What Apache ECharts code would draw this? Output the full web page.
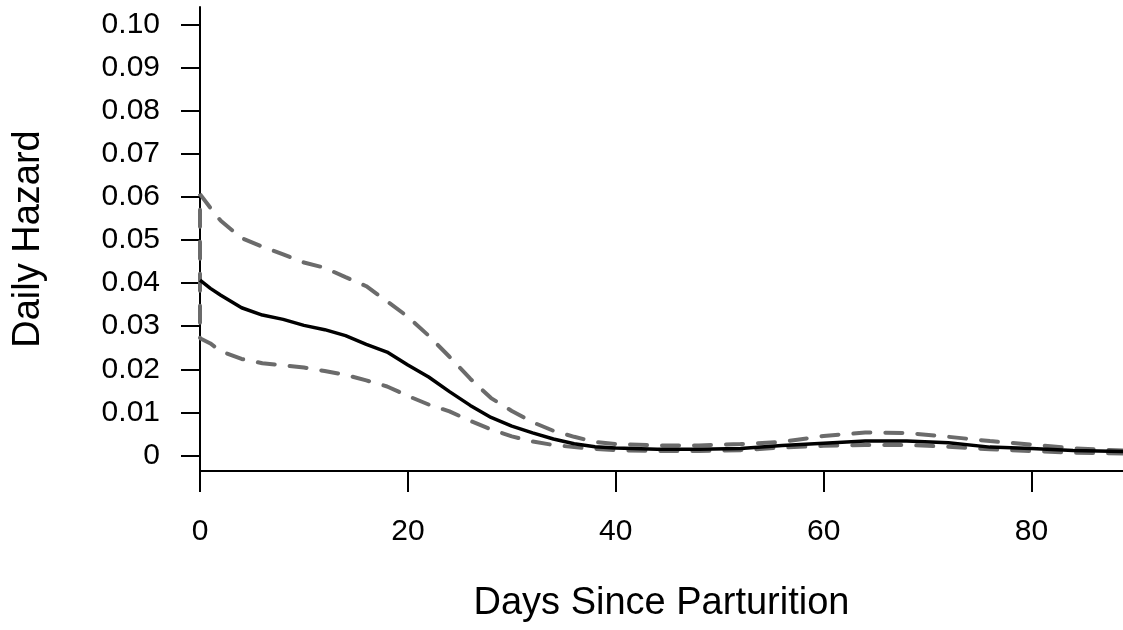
<!DOCTYPE html>
<html>
<head>
<meta charset="utf-8">
<script src="https://cdn.jsdelivr.net/npm/echarts@6/dist/echarts.min.js"></script>
<style>
html,body{margin:0;padding:0;background:#fff;}
#chart{width:1123px;height:630px;}
</style>
</head>
<body>
<div id="chart"></div>
<script>
const days = [0,1,2,4,6,8,10,12,14,16,18,20,22,24,26,28,30,32,34,36,38,40,44,48,52,56,60,64,68,72,76,80,84,89];
const hazard = [0.0407,0.0388,0.0372,0.0343,0.0326,0.0316,0.0302,0.0292,0.0278,0.0258,0.0240,0.0210,0.0182,0.0148,0.0116,0.0088,0.0068,0.0052,0.0038,0.0027,0.0020,0.0017,0.0014,0.0014,0.0016,0.0023,0.0028,0.0033,0.0033,0.0029,0.0019,0.0016,0.0011,0.0009];
const upper = [0.0607,0.0575,0.0545,0.0505,0.0485,0.0467,0.0448,0.0436,0.0414,0.0393,0.0358,0.0322,0.0278,0.0229,0.0178,0.0133,0.0103,0.0077,0.0057,0.0043,0.0031,0.0026,0.0023,0.0023,0.0026,0.0031,0.0045,0.0053,0.0052,0.0043,0.0033,0.0025,0.0016,0.0011];
const lower = [0.0272,0.0260,0.0242,0.0224,0.0214,0.0209,0.0204,0.0196,0.0187,0.0174,0.0160,0.0138,0.0118,0.0102,0.0080,0.0060,0.0044,0.0032,0.0024,0.0019,0.0015,0.0012,0.0010,0.0010,0.0012,0.0018,0.0022,0.0024,0.0024,0.0020,0.0014,0.0010,0.0006,0.0004];
const yTicks = [0,0.01,0.02,0.03,0.04,0.05,0.06,0.07,0.08,0.09,0.10];
const xTicks = [0,20,40,60,80];

const solidData = days.map((d,i)=>[d,hazard[i]]);
// confidence band drawn as one dashed path: lower (right to left), then upper (left to right)
const ciData = [];
for (let i = days.length-1; i >= 0; i--) ciData.push([days[i], lower[i]]);
for (let i = 0; i < days.length; i++) ciData.push([days[i], upper[i]]);

const font = '"Liberation Sans", Arial, sans-serif';
const chart = echarts.init(document.getElementById('chart'), null, {renderer:'canvas'});
chart.setOption({
  animation:false,
  backgroundColor:'#ffffff',
  grid:{left:200, right:0, top:7, bottom:159, containLabel:false},
  xAxis:{
    type:'value', min:0, max:88.8,
    name:'Days Since Parturition', nameLocation:'middle', nameGap:114,
    nameTextStyle:{fontFamily:font, fontSize:38, color:'#000'},
    axisLine:{show:true, onZero:false, lineStyle:{color:'#000', width:2}},
    axisTick:{show:true, inside:false, length:21, customValues:xTicks, lineStyle:{color:'#000', width:2}},
    axisLabel:{customValues:xTicks, margin:46, fontFamily:font, fontSize:30, color:'#000'},
    splitLine:{show:false}
  },
  yAxis:{
    type:'value', min:-0.00365, max:0.1042,
    name:'Daily Hazard', nameLocation:'middle', nameGap:152, nameRotate:90,
    nameTextStyle:{fontFamily:font, fontSize:38, color:'#000'},
    axisLine:{show:true, onZero:false, lineStyle:{color:'#000', width:2}},
    axisTick:{show:true, inside:false, length:19, customValues:yTicks, lineStyle:{color:'#000', width:2}},
    axisLabel:{customValues:yTicks, margin:40, fontFamily:font, fontSize:30, color:'#000',
      padding:[6,0,0,0],
      formatter:function(v){ return Math.abs(v) < 1e-9 ? '0' : v.toFixed(2); }},
    splitLine:{show:false}
  },
  series:[
    {type:'line', data:ciData, symbol:'none', smooth:false, z:2,
      lineStyle:{color:'#6b6b6b', width:4, type:[17,15], cap:'round'}},
    {type:'line', data:solidData, symbol:'none', smooth:false, z:3,
      lineStyle:{color:'#000', width:3.5}}
  ]
});
</script>
</body>
</html>
